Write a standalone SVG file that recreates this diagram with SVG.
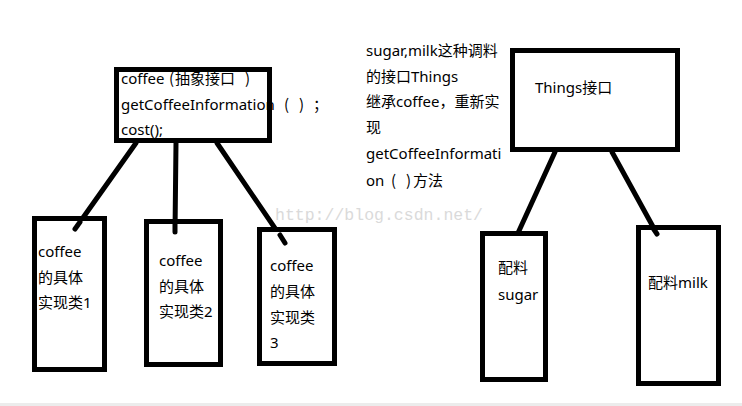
<svg xmlns="http://www.w3.org/2000/svg" width="742" height="406" viewBox="0 0 742 406">
<style>
.box{fill:#fff;stroke:#000;stroke-width:5}
.ln{stroke:#000;stroke-width:5;stroke-linecap:round;fill:none}
.t{font-family:"Noto Sans","Noto Sans CJK SC",sans-serif;font-size:15px;fill:#000}
.p{font-family:"Noto Sans CJK SC",sans-serif;font-feature-settings:"pwid"}
.wm{font-family:"Liberation Mono",monospace;font-size:16.5px;fill:#dadada}
</style>
<rect x="0" y="0" width="742" height="406" fill="#fff"/>
<g id="connectors">
<line class="ln" x1="136" y1="143" x2="75" y2="229"/>
<line class="ln" x1="176" y1="143" x2="175" y2="232"/>
<line class="ln" x1="217" y1="143" x2="285" y2="243"/>
<line class="ln" x1="555" y1="152" x2="518" y2="233"/>
<line class="ln" x1="612" y1="152" x2="657" y2="234"/>
</g>
<g id="coffee">
<rect class="box" x="116.5" y="69.5" width="153" height="71"/>
<text class="t" y="84"><tspan x="121">coffee</tspan><tspan class="p" x="169">（</tspan><tspan x="175">抽象接口</tspan><tspan class="p" x="245">）</tspan></text>
<text class="t" y="110"><tspan x="121">getCoffeeInformation</tspan><tspan class="p" x="284">（</tspan><tspan class="p" x="299">）</tspan><tspan class="p" x="313">；</tspan></text>
<text class="t" x="121" y="135">cost();</text>
</g>
<g id="impl1">
<rect class="box" x="34.5" y="218.5" width="70" height="151"/>
<text class="t" x="38" y="257">coffee</text>
<text class="t" x="38" y="283">的具体</text>
<text class="t" x="38" y="308">实现类1</text>
</g>
<g id="impl2">
<rect class="box" x="146.5" y="221.5" width="74" height="143"/>
<text class="t" x="159" y="266">coffee</text>
<text class="t" x="159" y="292">的具体</text>
<text class="t" x="159" y="317">实现类2</text>
</g>
<g id="impl3">
<rect class="box" x="259.5" y="229.5" width="75" height="134"/>
<text class="t" x="270" y="271">coffee</text>
<text class="t" x="270" y="297">的具体</text>
<text class="t" x="270" y="323">实现类</text>
<text class="t" x="270" y="348">3</text>
</g>
<g id="note">
<text class="t" x="366" y="56">sugar,milk这种调料</text>
<text class="t" x="366" y="82">的接口Things</text>
<text class="t" x="366" y="107">继承coffee，重新实</text>
<text class="t" x="366" y="133">现</text>
<text class="t" x="366" y="159">getCoffeeInformati</text>
<text class="t" y="186"><tspan x="366">on</tspan><tspan class="p" x="391">（</tspan><tspan class="p" x="406">）</tspan><tspan x="413">方法</tspan></text>
</g>
<g id="things">
<rect class="box" x="512.5" y="50.5" width="165" height="99"/>
<text class="t" x="535" y="93">Things接口</text>
</g>
<g id="sugar">
<rect class="box" x="482.5" y="233.5" width="63" height="146"/>
<text class="t" x="498" y="273">配料</text>
<text class="t" x="498" y="300">sugar</text>
</g>
<g id="milk">
<rect class="box" x="638.5" y="227.5" width="80" height="156"/>
<text class="t" x="648" y="288">配料milk</text>
</g>
<g id="connector-ends">
<line class="ln" x1="75" y1="229" x2="80" y2="222"/>
<line class="ln" x1="175" y1="232" x2="175" y2="224"/>
<line class="ln" x1="285" y1="243" x2="280" y2="235"/>
<line class="ln" x1="657" y1="234" x2="653" y2="228"/>
</g>
<text class="wm" x="275" y="220" textLength="208" lengthAdjust="spacingAndGlyphs">http://blog.csdn.net/</text>
<rect x="0" y="403" width="742" height="3" fill="#ececec"/>
</svg>
